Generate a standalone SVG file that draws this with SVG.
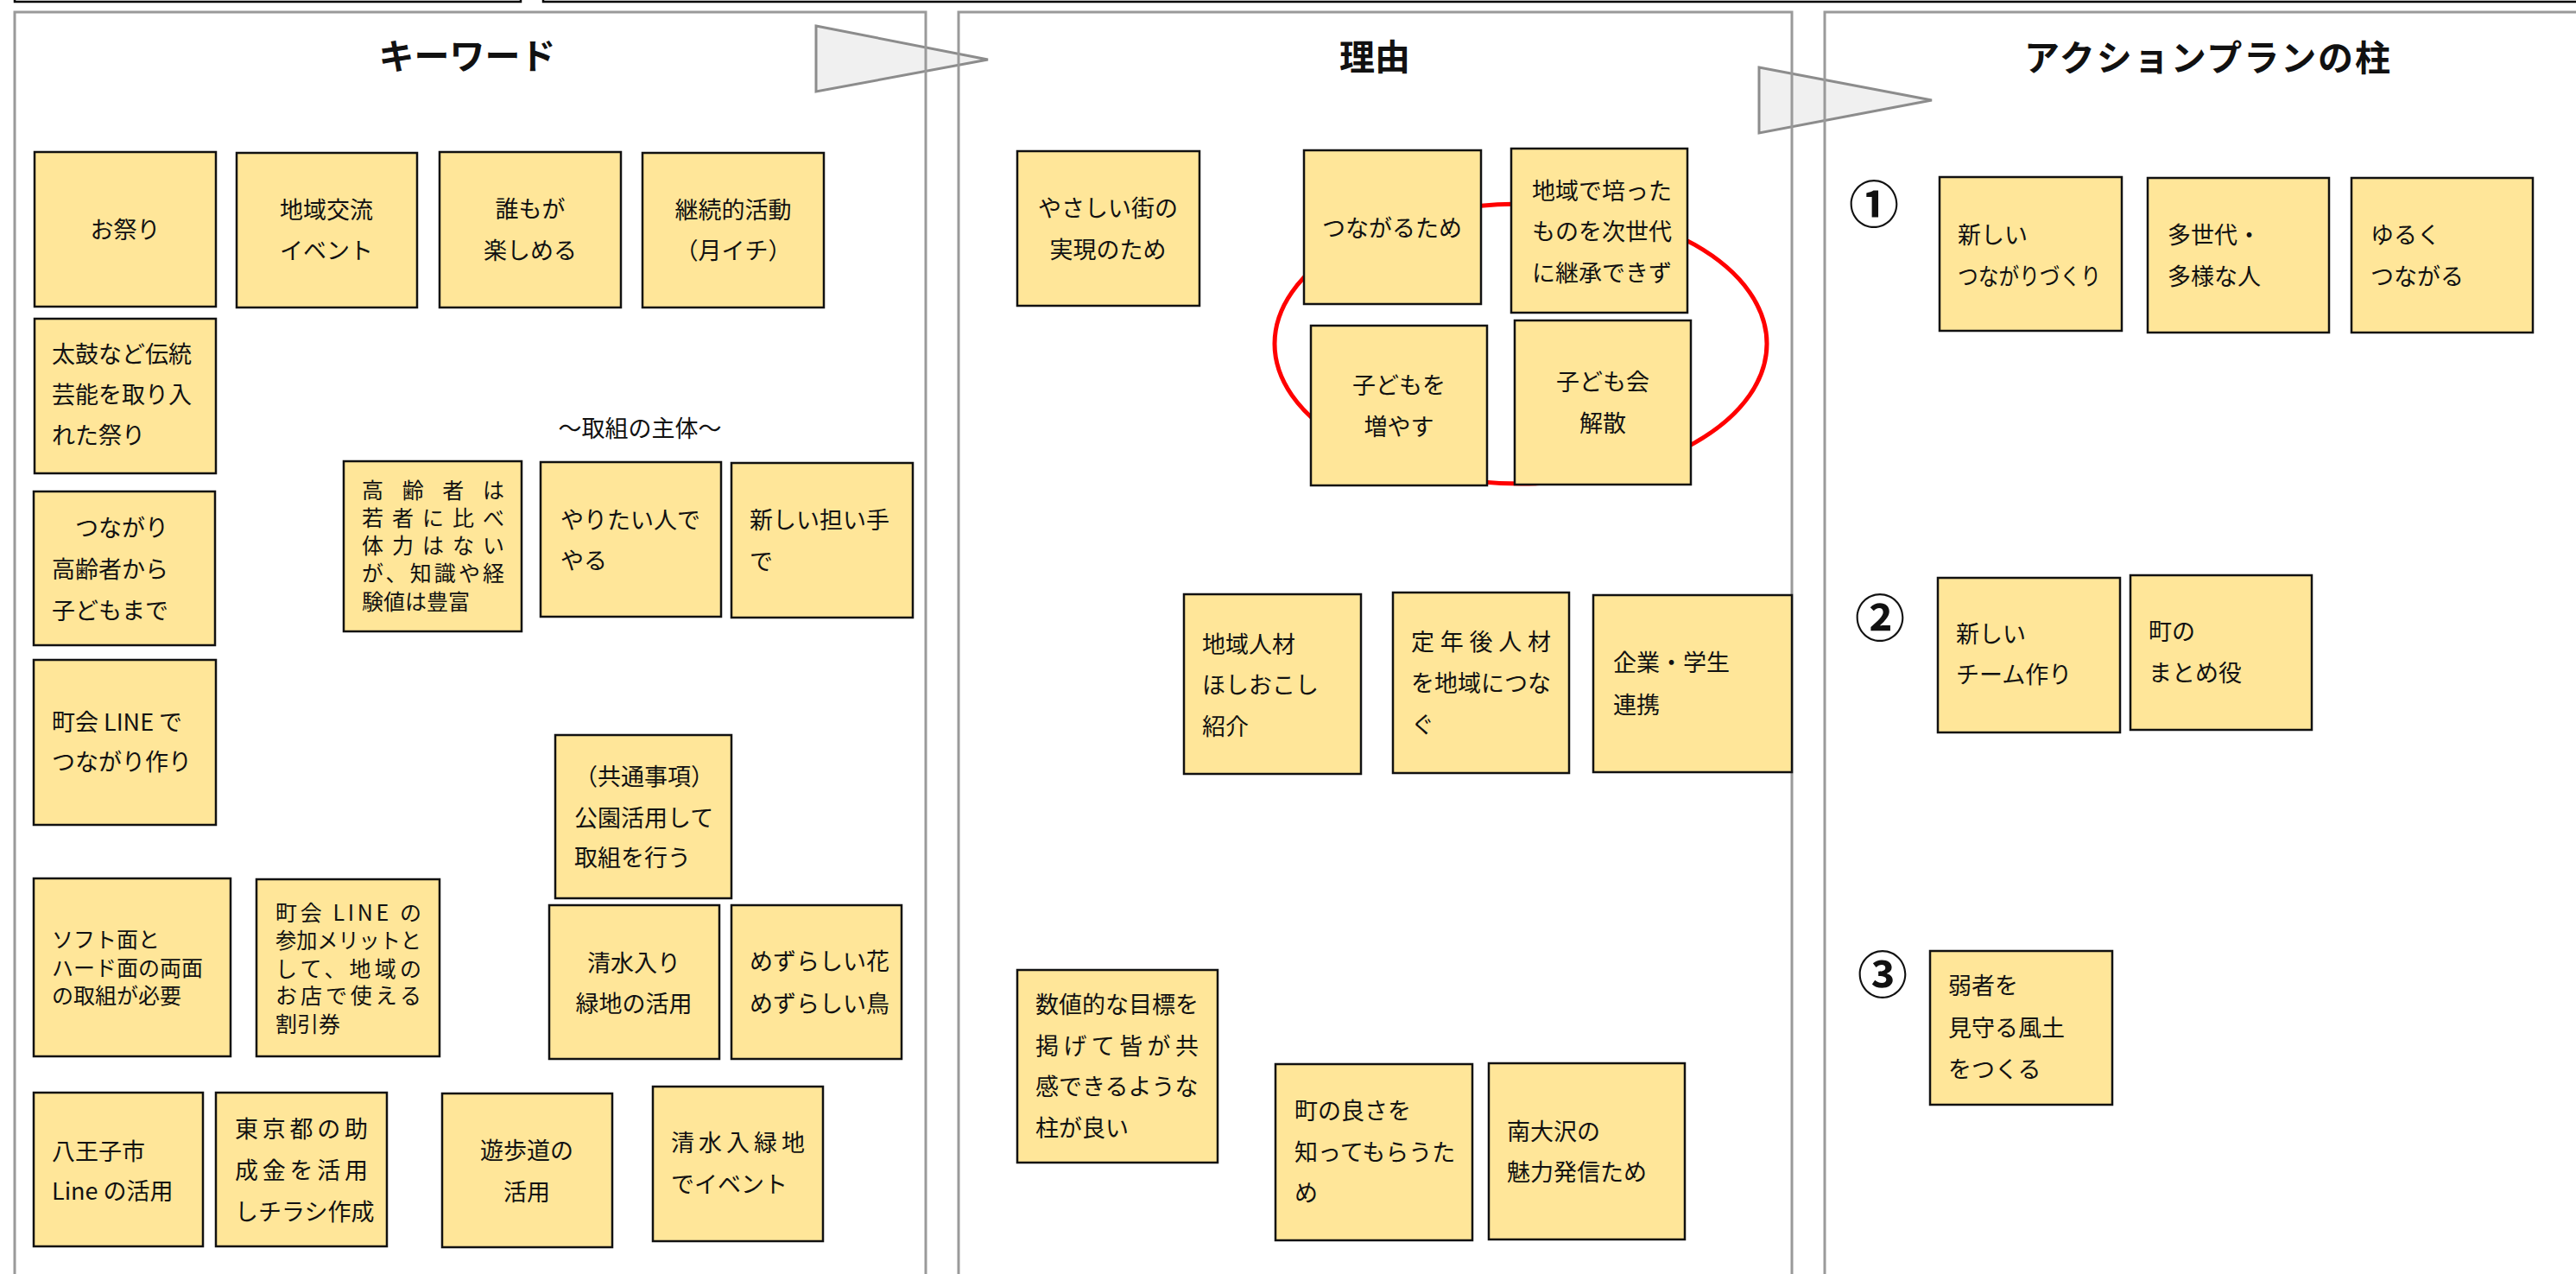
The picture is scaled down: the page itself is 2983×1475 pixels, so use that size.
<svg xmlns="http://www.w3.org/2000/svg" width="2983" height="1475" viewBox="0 0 2983 1475">
<style>
.bg{fill:#ffffff}
.top{fill:none;stroke:#000;stroke-width:2.5}
.panel{fill:none;stroke:#9a9a9a;stroke-width:3}
.arrow{fill:#f0f0f0;stroke:#8c8c8c;stroke-width:3}
.note{fill:#FFE699;stroke:#111;stroke-width:2.5}
text{font-family:"Noto Sans CJK JP","Noto Sans",sans-serif;fill:#111}
.t{font-size:27px}
.s{font-size:25px}
.c{text-anchor:middle}
.title{font-size:41px;font-weight:bold;text-anchor:middle}
.num{font-size:58px;font-weight:bold;text-anchor:middle;dominant-baseline:central}
</style>
<rect class="bg" x="0" y="0" width="2983" height="1475"/>
<rect class="top" x="17" y="-50" width="586" height="52"/>
<rect class="top" x="629" y="-50" width="2400" height="52"/>

<g id="connectors">
<polygon class="arrow" points="945,30 1144,69 945,106"/>
<polygon class="arrow" points="2037,78 2237,116 2037,154"/>
</g>

<g id="panel-keyword">
<rect class="panel" x="17" y="14" width="1055" height="1500"/>
<text class="title" x="541" y="80">キーワード</text>
</g>
<g id="panel-reason">
<rect class="panel" x="1110" y="14" width="965" height="1500"/>
<text class="title" x="1592" y="81">理由</text>
</g>
<g id="panel-action">
<rect class="panel" x="2113" y="14" width="900" height="1500"/>
<text class="title" x="2556" y="82" textLength="424" lengthAdjust="spacing">アクションプランの柱</text>
</g>

<g id="red-ellipse">
<ellipse cx="1761" cy="398" rx="285" ry="162" fill="none" stroke="#ff0000" stroke-width="5"/>
</g>

<!-- Keyword panel -->
<g id="k1"><rect class="note" x="40" y="176" width="210" height="179"/><text class="t c" x="145" y="276">お祭り</text></g>
<g id="k2"><rect class="note" x="274" y="177" width="209" height="179"/><text class="t c" x="378" y="253">地域交流</text><text class="t c" x="378" y="300">イベント</text></g>
<g id="k3"><rect class="note" x="509" y="176" width="210" height="180"/><text class="t c" x="614" y="252">誰もが</text><text class="t c" x="614" y="300">楽しめる</text></g>
<g id="k4"><rect class="note" x="744" y="177" width="210" height="179"/><text class="t c" x="849" y="253">継続的活動</text><text class="t c" x="849" y="300">（月イチ）</text></g>
<g id="k5"><rect class="note" x="40" y="369" width="210" height="179"/><text class="t" x="60" y="420">太鼓など伝統</text><text class="t" x="60" y="467">芸能を取り入</text><text class="t" x="60" y="514">れた祭り</text></g>
<g id="k-label"><text class="t c" x="741" y="506">～取組の主体～</text></g>
<g id="k6"><rect class="note" x="398" y="534" width="206" height="197"/><text class="s" x="419" y="577" textLength="165" lengthAdjust="spacing">高齢者は</text><text class="s" x="419" y="609" textLength="165" lengthAdjust="spacing">若者に比べ</text><text class="s" x="419" y="641" textLength="165" lengthAdjust="spacing">体力はない</text><text class="s" x="419" y="673" textLength="165" lengthAdjust="spacing">が、知識や経</text><text class="s" x="419" y="706">験値は豊富</text></g>
<g id="k7"><rect class="note" x="626" y="535" width="209" height="179"/><text class="t" x="649" y="612">やりたい人で</text><text class="t" x="649" y="659">やる</text></g>
<g id="k8"><rect class="note" x="847" y="536" width="210" height="179"/><text class="t" x="868" y="612">新しい担い手</text><text class="t" x="868" y="660">で</text></g>
<g id="k9"><rect class="note" x="39" y="569" width="210" height="178"/><text class="t" x="60" y="621">　つながり</text><text class="t" x="60" y="669">高齢者から</text><text class="t" x="60" y="717">子どもまで</text></g>
<g id="k10"><rect class="note" x="39" y="764" width="211" height="191"/><text class="t" x="60" y="846">町会 LINE で</text><text class="t" x="60" y="892">つながり作り</text></g>
<g id="k11"><rect class="note" x="643" y="851" width="204" height="189"/><text class="t c" x="746" y="909">（共通事項）</text><text class="t" x="665" y="957">公園活用して</text><text class="t" x="665" y="1003">取組を行う</text></g>
<g id="k12"><rect class="note" x="39" y="1017" width="228" height="206"/><text class="s" x="60" y="1097">ソフト面と</text><text class="s" x="60" y="1130">ハード面の両面</text><text class="s" x="60" y="1162">の取組が必要</text></g>
<g id="k13"><rect class="note" x="297" y="1018" width="212" height="205"/><text class="s" x="319" y="1066" textLength="169" lengthAdjust="spacing">町会 LINE の</text><text class="s" x="319" y="1098" textLength="169" lengthAdjust="spacingAndGlyphs">参加メリットと</text><text class="s" x="319" y="1131" textLength="169" lengthAdjust="spacing">して、地域の</text><text class="s" x="319" y="1162" textLength="169" lengthAdjust="spacing">お店で使える</text><text class="s" x="319" y="1195">割引券</text></g>
<g id="k14"><rect class="note" x="636" y="1048" width="197" height="178"/><text class="t c" x="734" y="1125">清水入り</text><text class="t c" x="734" y="1172">緑地の活用</text></g>
<g id="k15"><rect class="note" x="847" y="1048" width="197" height="178"/><text class="t" x="868" y="1123">めずらしい花</text><text class="t" x="868" y="1172">めずらしい鳥</text></g>
<g id="k16"><rect class="note" x="39" y="1265" width="196" height="178"/><text class="t" x="60" y="1343">八王子市</text><text class="t" x="60" y="1389">Line の活用</text></g>
<g id="k17"><rect class="note" x="250" y="1265" width="198" height="178"/><text class="t" x="272" y="1317" textLength="154" lengthAdjust="spacing">東京都の助</text><text class="t" x="272" y="1365" textLength="154" lengthAdjust="spacing">成金を活用</text><text class="t" x="272" y="1413">しチラシ作成</text></g>
<g id="k18"><rect class="note" x="512" y="1266" width="197" height="178"/><text class="t c" x="610" y="1342">遊歩道の</text><text class="t c" x="610" y="1390">活用</text></g>
<g id="k19"><rect class="note" x="756" y="1258" width="197" height="179"/><text class="t" x="777" y="1333" textLength="155" lengthAdjust="spacing">清水入緑地</text><text class="t" x="777" y="1381">でイベント</text></g>

<!-- Reason panel -->
<g id="r1"><rect class="note" x="1178" y="175" width="211" height="179"/><text class="t c" x="1283" y="251">やさしい街の</text><text class="t c" x="1283" y="299">実現のため</text></g>
<g id="r2"><rect class="note" x="1510" y="174" width="205" height="178"/><text class="t c" x="1612" y="274">つながるため</text></g>
<g id="r3"><rect class="note" x="1750" y="172" width="204" height="190"/><text class="t" x="1774" y="231">地域で培った</text><text class="t" x="1774" y="278">ものを次世代</text><text class="t" x="1774" y="326">に継承できず</text></g>
<g id="r4"><rect class="note" x="1518" y="377" width="204" height="185"/><text class="t c" x="1620" y="456">子どもを</text><text class="t c" x="1620" y="504">増やす</text></g>
<g id="r5"><rect class="note" x="1754" y="371" width="204" height="190"/><text class="t c" x="1856" y="452">子ども会</text><text class="t c" x="1856" y="500">解散</text></g>
<g id="r6"><rect class="note" x="1371" y="688" width="205" height="208"/><text class="t" x="1392" y="756">地域人材</text><text class="t" x="1392" y="803">ほしおこし</text><text class="t" x="1392" y="851">紹介</text></g>
<g id="r7"><rect class="note" x="1613" y="686" width="204" height="209"/><text class="t" x="1634" y="753" textLength="162" lengthAdjust="spacing">定年後人材</text><text class="t" x="1634" y="801">を地域につな</text><text class="t" x="1634" y="849">ぐ</text></g>
<g id="r8"><rect class="note" x="1845" y="689" width="230" height="205"/><text class="t" x="1868" y="777">企業・学生</text><text class="t" x="1868" y="826">連携</text></g>
<g id="r9"><rect class="note" x="1178" y="1123" width="232" height="223"/><text class="t" x="1199" y="1173">数値的な目標を</text><text class="t" x="1199" y="1221" textLength="189" lengthAdjust="spacing">掲げて皆が共</text><text class="t" x="1199" y="1268">感できるような</text><text class="t" x="1199" y="1316">柱が良い</text></g>
<g id="r10"><rect class="note" x="1477" y="1232" width="228" height="204"/><text class="t" x="1499" y="1296">町の良さを</text><text class="t" x="1499" y="1344">知ってもらうた</text><text class="t" x="1499" y="1391">め</text></g>
<g id="r11"><rect class="note" x="1724" y="1231" width="227" height="204"/><text class="t" x="1745" y="1320">南大沢の</text><text class="t" x="1745" y="1367">魅力発信ため</text></g>

<!-- Action plan panel -->
<g id="n1"><text class="num" x="2170" y="233">①</text></g>
<g id="a1"><rect class="note" x="2246" y="205" width="211" height="178"/><text class="t" x="2267" y="282">新しい</text><text class="t" x="2267" y="330" textLength="166" lengthAdjust="spacingAndGlyphs">つながりづくり</text></g>
<g id="a2"><rect class="note" x="2487" y="206" width="210" height="179"/><text class="t" x="2510" y="282">多世代・</text><text class="t" x="2510" y="330">多様な人</text></g>
<g id="a3"><rect class="note" x="2723" y="206" width="210" height="179"/><text class="t" x="2745" y="282">ゆるく</text><text class="t" x="2745" y="330">つながる</text></g>
<g id="n2"><text class="num" x="2177" y="712">②</text></g>
<g id="a4"><rect class="note" x="2244" y="669" width="211" height="179"/><text class="t" x="2265" y="744">新しい</text><text class="t" x="2265" y="791">チーム作り</text></g>
<g id="a5"><rect class="note" x="2467" y="666" width="210" height="179"/><text class="t" x="2488" y="741">町の</text><text class="t" x="2488" y="789">まとめ役</text></g>
<g id="n3"><text class="num" x="2180" y="1125">③</text></g>
<g id="a6"><rect class="note" x="2235" y="1101" width="211" height="178"/><text class="t" x="2256" y="1151">弱者を</text><text class="t" x="2256" y="1200">見守る風土</text><text class="t" x="2256" y="1248">をつくる</text></g>
</svg>
